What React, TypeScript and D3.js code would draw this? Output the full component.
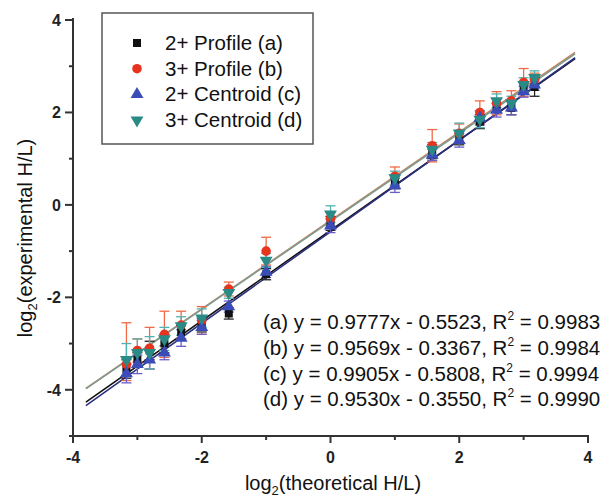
import React from 'react'
import * as d3 from 'd3'

// theoretical log2 ratios (x positions of the clusters)
const theo = [-3.17, -3, -2.81, -2.58, -2.32, -2, -1.58, -1, 0, 1, 1.58, 2, 2.32, 2.58, 2.81, 3, 3.17]

// measured log2 ratios, one array per series
const profile2 = [-3.55, -3.35, -3.15, -3.0, -2.75, -2.6, -2.35, -1.5, -0.4, 0.5, 1.15, 1.45, 1.8, 2.15, 2.1, 2.55, 2.55]
const profile3 = [-3.45, -3.15, -3.1, -2.8, -2.6, -2.5, -1.82, -1.0, -0.3, 0.62, 1.28, 1.55, 2.0, 2.2, 2.25, 2.65, 2.7]
const centroid2 = [-3.65, -3.45, -3.35, -3.2, -2.88, -2.65, -2.2, -1.45, -0.45, 0.42, 1.08, 1.4, 1.88, 2.05, 2.1, 2.45, 2.6]
const centroid3 = [-3.35, -3.2, -3.2, -2.9, -2.62, -2.45, -1.9, -1.2, -0.2, 0.58, 1.2, 1.55, 1.85, 2.25, 2.2, 2.6, 2.75]

// error bars (upper / lower extent)
const err2p = [0.2, 0.15, 0.2, 0.2, 0.15, 0.15, 0.12, 0.12, 0.15, 0.15, 0.15, 0.15, 0.15, 0.15, 0.15, 0.12, 0.2]
const err3pUp = [0.9, 0.25, 0.45, 0.5, 0.3, 0.3, 0.15, 0.3, 0.15, 0.2, 0.35, 0.2, 0.25, 0.25, 0.22, 0.3, 0.15]
const err3pDown = [0.35, 0.25, 0.45, 0.5, 0.3, 0.3, 0.15, 0.3, 0.15, 0.2, 0.35, 0.2, 0.25, 0.25, 0.22, 0.3, 0.15]
const err2c = [0.2, 0.2, 0.2, 0.15, 0.18, 0.15, 0.12, 0.12, 0.15, 0.15, 0.12, 0.15, 0.15, 0.15, 0.15, 0.12, 0.12]
const err3c = [0.35, 0.3, 0.35, 0.25, 0.2, 0.2, 0.12, 0.15, 0.18, 0.15, 0.15, 0.22, 0.18, 0.15, 0.15, 0.15, 0.15]

const names = ['2+ Profile (a)', '3+ Profile (b)', '2+ Centroid (c)', '3+ Centroid (d)']
const slopes = [0.9777, 0.9569, 0.9905, 0.953]
const intercepts = [-0.5523, -0.3367, -0.5808, -0.355]
const eqText = [
  ['(a) y = 0.9777x - 0.5523, R', ' = 0.9983'],
  ['(b) y = 0.9569x - 0.3367, R', ' = 0.9984'],
  ['(c) y = 0.9905x - 0.5808, R', ' = 0.9994'],
  ['(d) y = 0.9530x - 0.3550, R', ' = 0.9990'],
]
const xTicks = [-4, -2, 0, 2, 4]
const xMinor = [-3, -1, 1, 3]
const yTicks = [-4, -2, 0, 2, 4]
const yMinor = [-5, -3, -1, 1, 3]

const series = [
  { vals: profile2, up: err2p, down: err2p, color: '#111111', errColor: '#222222', line: '#111111', shape: d3.symbolSquare, size: 64, rot: 0 },
  { vals: profile3, up: err3pUp, down: err3pDown, color: '#e8341f', errColor: '#f06a45', line: '#c8805c', shape: d3.symbolCircle, size: 72, rot: 0 },
  { vals: centroid2, up: err2c, down: err2c, color: '#3a4cb8', errColor: '#6a5fc8', line: '#2a2f80', shape: d3.symbolTriangle, size: 72, rot: 0 },
  { vals: centroid3, up: err3c, down: err3c, color: '#2a8a86', errColor: '#52b2b0', line: '#7c9c92', shape: d3.symbolTriangle, size: 72, rot: 180 },
]

const font = '"Liberation Sans", Arial, sans-serif'

export default function App() {
  const x = d3.scaleLinear().domain([-4, 4]).range([73, 588])
  const y = d3.scaleLinear().domain([-5, 4]).range([436, 20])
  const fitLine = d3.line<number>()
  const sym = (s: typeof series[number]) => d3.symbol().type(s.shape).size(s.size)()

  return (
    <svg width={603} height={501} style={{ position: 'absolute', left: 0, top: 0, background: '#fff' }} fontFamily={font}>
      {/* fit lines */}
      {series.map((s, i) => (
        <path key={'f' + i}
          d={fitLine([[x(-3.8), y(slopes[i] * -3.8 + intercepts[i])], [x(3.8), y(slopes[i] * 3.8 + intercepts[i])]]) || ''}
          stroke={s.line} strokeWidth={1.6} fill="none" />
      ))}
      {/* error bars */}
      {series.map((s, i) => (
        <g key={'e' + i} stroke={s.errColor} strokeWidth={1.3}>
          {theo.map((t, j) => {
            const cx = x(t), top = y(s.vals[j] + s.up[j]), bot = y(s.vals[j] - s.down[j])
            return (
              <g key={j}>
                <line x1={cx} x2={cx} y1={top} y2={bot} />
                <line x1={cx - 5} x2={cx + 5} y1={top} y2={top} />
                <line x1={cx - 5} x2={cx + 5} y1={bot} y2={bot} />
              </g>
            )
          })}
        </g>
      ))}
      {/* markers */}
      {series.map((s, i) => (
        <g key={'m' + i} fill={s.color}>
          {theo.map((t, j) => (
            <path key={j} d={sym(s) || ''} transform={`translate(${x(t)},${y(s.vals[j])}) rotate(${s.rot})`} />
          ))}
        </g>
      ))}

      {/* axes */}
      <g stroke="#333" strokeWidth={2}>
        <line x1={x(-4)} x2={x(4) + 1} y1={y(-5)} y2={y(-5)} />
        <line x1={x(-4)} x2={x(-4)} y1={y(4) - 2} y2={y(-5)} />
        {xTicks.map(t => <line key={'xt' + t} x1={x(t)} x2={x(t)} y1={y(-5)} y2={y(-5) + 7} />)}
        {xMinor.map(t => <line key={'xm' + t} x1={x(t)} x2={x(t)} y1={y(-5)} y2={y(-5) + 4} />)}
        {yTicks.map(t => <line key={'yt' + t} x1={x(-4) - 8} x2={x(-4)} y1={y(t)} y2={y(t)} />)}
        {yMinor.map(t => <line key={'ym' + t} x1={x(-4) - 4} x2={x(-4)} y1={y(t)} y2={y(t)} />)}
      </g>
      <g fontSize={16} fontWeight="bold" fill="#222">
        {xTicks.map(t => <text key={'xl' + t} x={x(t)} y={463} textAnchor="middle">{t < 0 ? '-' + Math.abs(t) : t}</text>)}
        {yTicks.map(t => <text key={'yl' + t} x={61} y={y(t) + 6} textAnchor="end">{t < 0 ? '-' + Math.abs(t) : t}</text>)}
      </g>
      <text x={333} y={490} fontSize={20} textAnchor="middle" fill="#111">
        log<tspan fontSize={13} dy={5}>2</tspan><tspan dy={-5}>(theoretical H/L)</tspan>
      </text>
      <text transform="translate(32,238) rotate(-90)" fontSize={20} textAnchor="middle" fill="#111">
        log<tspan fontSize={13} dy={5}>2</tspan><tspan dy={-5}>(experimental H/L)</tspan>
      </text>

      {/* legend */}
      <rect x={102} y={13} width={211} height={131} fill="#fff" stroke="#555" strokeWidth={1.5} />
      {series.map((s, i) => (
        <g key={'l' + i}>
          <path d={sym(s) || ''} fill={s.color} transform={`translate(137,${43 + i * 25.7}) rotate(${s.rot})`} />
          <text x={165} y={43 + i * 25.7 + 7} fontSize={20.5} fill="#111">{names[i]}</text>
        </g>
      ))}

      {/* equations */}
      {eqText.map((e, i) => (
        <text key={'q' + i} x={263} y={322 + i * 25.8 + 7} fontSize={20.5} fill="#111">
          {e[0]}<tspan fontSize={12} dy={-9}>2</tspan><tspan dy={9}>{e[1]}</tspan>
        </text>
      ))}
    </svg>
  )
}
